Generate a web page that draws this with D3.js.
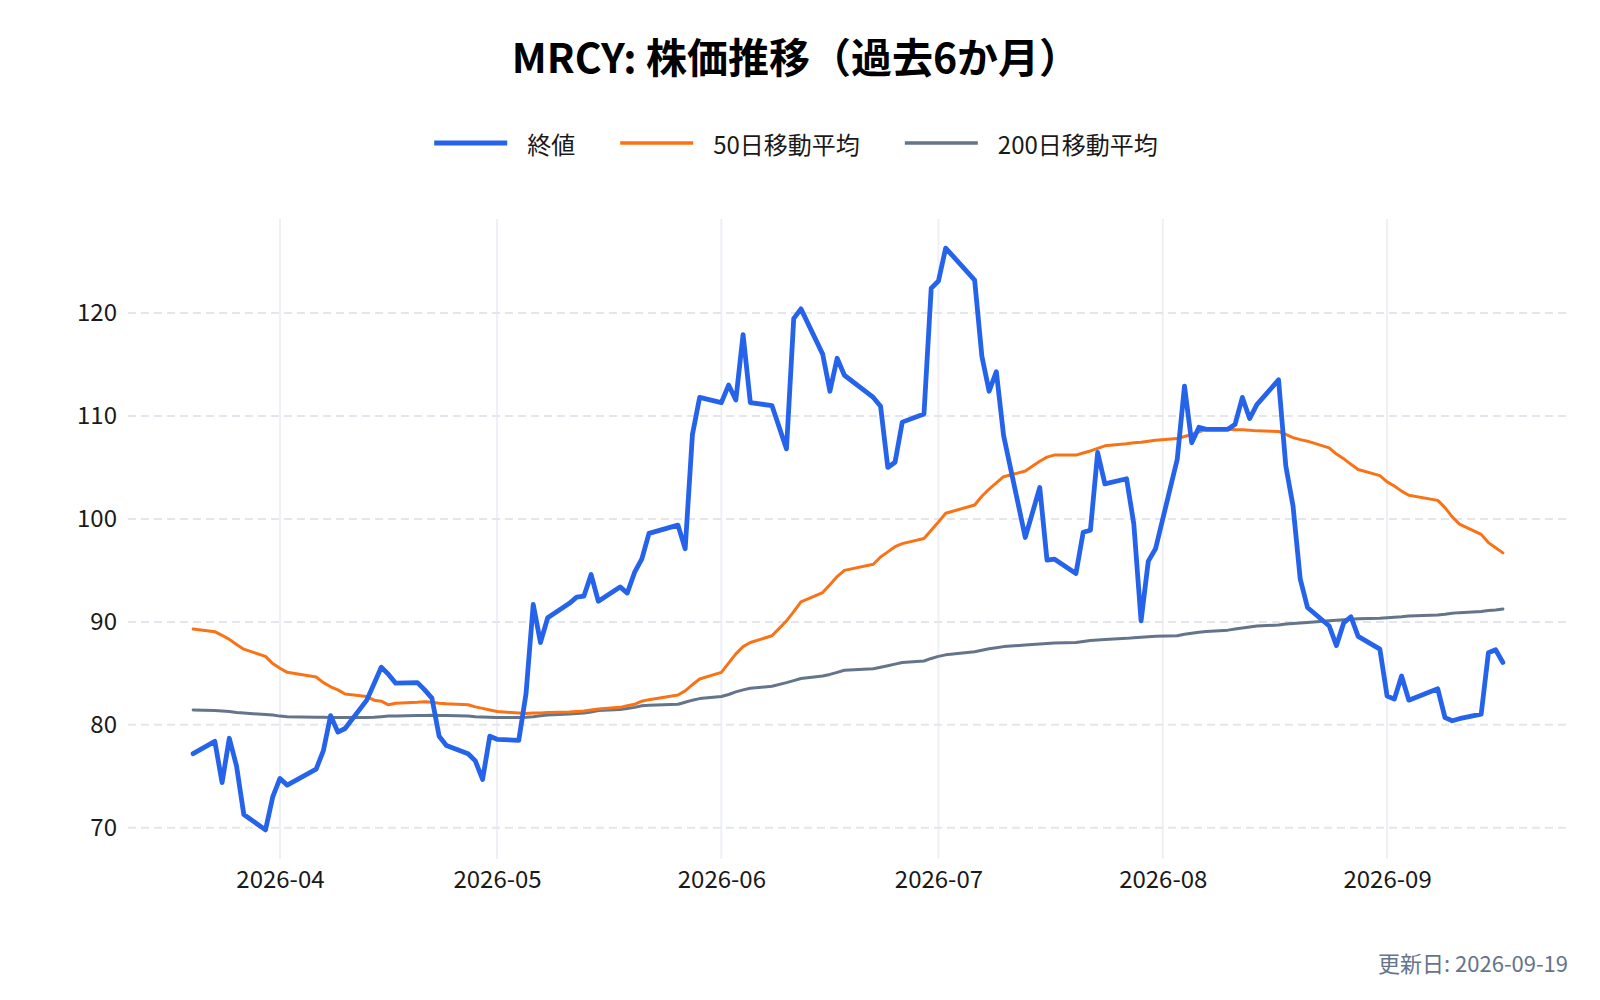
<!DOCTYPE html>
<html>

<head>
  <meta charset="utf-8">
  <title>MRCY 株価推移</title>
  <script src="https://d3js.org/d3.v7.min.js"></script>
  <style>
    body {
      margin: 0;
      background: #fff;
    }
    svg {
      display: block;
      font-family: "Noto Sans CJK JP", "Noto Sans", sans-serif;
    }
  </style>
</head>

<body>
  <script>
    // trading days shown in the chart
    const dates = [
      "2026-03-20", "2026-03-23", "2026-03-24", "2026-03-25", "2026-03-26", "2026-03-27",
      "2026-03-30", "2026-03-31", "2026-04-01", "2026-04-02", "2026-04-06", "2026-04-07",
      "2026-04-08", "2026-04-09", "2026-04-10", "2026-04-13", "2026-04-14", "2026-04-15",
      "2026-04-16", "2026-04-17", "2026-04-20", "2026-04-21", "2026-04-22", "2026-04-23",
      "2026-04-24", "2026-04-27", "2026-04-28", "2026-04-29", "2026-04-30", "2026-05-01",
      "2026-05-04", "2026-05-05", "2026-05-06", "2026-05-07", "2026-05-08", "2026-05-11",
      "2026-05-12", "2026-05-13", "2026-05-14", "2026-05-15", "2026-05-18", "2026-05-19",
      "2026-05-20", "2026-05-21", "2026-05-22", "2026-05-26", "2026-05-27", "2026-05-28",
      "2026-05-29", "2026-06-01", "2026-06-02", "2026-06-03", "2026-06-04", "2026-06-05",
      "2026-06-08", "2026-06-10", "2026-06-11", "2026-06-12", "2026-06-15", "2026-06-16",
      "2026-06-17", "2026-06-18", "2026-06-22", "2026-06-23", "2026-06-24", "2026-06-25",
      "2026-06-26", "2026-06-29", "2026-06-30", "2026-07-01", "2026-07-02", "2026-07-06",
      "2026-07-07", "2026-07-08", "2026-07-09", "2026-07-10", "2026-07-13", "2026-07-15",
      "2026-07-16", "2026-07-17", "2026-07-20", "2026-07-21", "2026-07-22", "2026-07-23",
      "2026-07-24", "2026-07-27", "2026-07-28", "2026-07-29", "2026-07-30", "2026-07-31",
      "2026-08-03", "2026-08-04", "2026-08-05", "2026-08-06", "2026-08-07", "2026-08-10",
      "2026-08-11", "2026-08-12", "2026-08-13", "2026-08-14", "2026-08-17", "2026-08-18",
      "2026-08-19", "2026-08-20", "2026-08-21", "2026-08-24", "2026-08-25", "2026-08-26",
      "2026-08-27", "2026-08-28", "2026-08-31", "2026-09-01", "2026-09-02", "2026-09-03",
      "2026-09-04", "2026-09-08", "2026-09-09", "2026-09-10", "2026-09-11", "2026-09-14",
      "2026-09-15", "2026-09-16", "2026-09-17"
    ];

    const closeValues = [
      77.2, 78.4, 74.4, 78.7, 76.0, 71.3,
      69.8, 73.0, 74.8, 74.15, 75.7, 77.5,
      80.9, 79.3, 79.65, 82.4, 84.0, 85.6,
      84.9, 84.05, 84.1, 83.4, 82.6, 78.9,
      78.0, 77.2, 76.5, 74.7, 78.9, 78.6,
      78.5, 83.0, 91.7, 88.0, 90.4, 91.8,
      92.4, 92.5, 94.6, 92.0, 93.4, 92.8,
      94.8, 96.1, 98.6, 99.4, 97.1, 108.2,
      111.8, 111.3, 113.0, 111.55, 117.9, 111.3,
      111.0, 106.8, 119.45, 120.4, 116.0, 112.4,
      115.6, 113.95, 111.8, 110.95, 105.0, 105.5,
      109.4, 110.2, 122.4, 123.1, 126.3, 123.2,
      115.8, 112.4, 114.3, 108.1, 98.2, 103.05,
      96.0, 96.1, 94.7, 98.7, 98.9, 106.45,
      103.4, 103.9, 99.5, 90.1, 95.9, 97.1,
      105.8, 112.9, 107.4, 108.9, 108.7, 108.7,
      109.2, 111.8, 109.75, 111.1, 113.5, 105.15,
      101.25, 94.15, 91.4, 89.6, 87.7, 89.9,
      90.5, 88.6, 87.35, 82.8, 82.5, 84.75,
      82.4, 83.5, 80.7, 80.4, 80.6, 81.04,
      87.0, 87.3, 86.06
    ];

    const ma50Values = [
      89.3, 89.05, 88.7, 88.3, 87.8, 87.35,
      86.65, 85.95, 85.5, 85.1, 84.65, 84.1,
      83.7, 83.4, 83.0, 82.75, 82.4, 82.3,
      81.95, 82.1, 82.2, 82.25, 82.2, 82.1,
      82.05, 81.95, 81.75, 81.6, 81.45, 81.3,
      81.15, 81.1, 81.15, 81.15, 81.2, 81.25,
      81.3, 81.35, 81.45, 81.55, 81.7, 81.85,
      82.0, 82.3, 82.45, 82.9, 83.3, 83.9,
      84.45, 85.1, 86.0, 86.9, 87.6, 88.0,
      88.65, 90.1, 91.0, 91.95, 92.85, 93.6,
      94.4, 95.0, 95.6, 96.3, 96.8, 97.3,
      97.6, 98.1, 98.9, 99.7, 100.55, 101.35,
      102.2, 102.9, 103.5, 104.1, 104.65, 105.6,
      106.0, 106.2, 106.2, 106.4, 106.6, 106.85,
      107.1, 107.3, 107.4, 107.45, 107.55, 107.65,
      107.8, 108.0, 108.2, 108.45, 108.7, 108.7,
      108.65, 108.65, 108.6, 108.55, 108.5, 108.2,
      107.9, 107.7, 107.55, 106.9, 106.3, 105.85,
      105.3, 104.8, 104.2, 103.6, 103.2, 102.7,
      102.3, 101.8, 101.1, 100.2, 99.5, 98.5,
      97.7, 97.2, 96.7
    ];

    const ma200Values = [
      81.45, 81.4, 81.35, 81.3, 81.2, 81.15,
      81.0, 80.95, 80.85, 80.8, 80.75, 80.75,
      80.72, 80.72, 80.72, 80.72, 80.75, 80.8,
      80.85, 80.87, 80.9, 80.92, 80.93, 80.92,
      80.9, 80.87, 80.8, 80.77, 80.75, 80.72,
      80.72, 80.75, 80.8, 80.88, 80.95, 81.05,
      81.1, 81.15, 81.25, 81.4, 81.5, 81.6,
      81.7, 81.85, 81.9, 82.0, 82.2, 82.4,
      82.55, 82.75, 82.95, 83.2, 83.4, 83.55,
      83.75, 84.1, 84.3, 84.5, 84.75, 84.9,
      85.1, 85.3, 85.45, 85.6, 85.75, 85.9,
      86.05, 86.2, 86.45, 86.65, 86.8, 87.1,
      87.25, 87.4, 87.5, 87.6, 87.75, 87.85,
      87.9, 87.95, 88.0, 88.1, 88.2, 88.25,
      88.3, 88.4, 88.45, 88.5, 88.55, 88.6,
      88.65, 88.8, 88.9, 89.0, 89.07, 89.2,
      89.3, 89.4, 89.5, 89.6, 89.7, 89.8,
      89.85, 89.9, 89.95, 90.1, 90.15, 90.2,
      90.25, 90.3, 90.36, 90.4, 90.45, 90.5,
      90.58, 90.68, 90.75, 90.85, 90.9, 91.0,
      91.1, 91.15, 91.25
    ];

    const seriesNames = ["終値", "50日移動平均", "200日移動平均"];
    const seriesColors = ["#2563eb", "#f97316", "#64748b"];
    const seriesWidths = [4.8, 3, 3];
    const yTickValues = [70, 80, 90, 100, 110, 120];
    const xTickLabels = ["2026-04", "2026-05", "2026-06", "2026-07", "2026-08", "2026-09"];
    const titleText = "MRCY: 株価推移（過去6か月）";
    const updatedText = "更新日: 2026-09-19";

    const width = 1600;
    const height = 1000;
    const plot = { left: 128, right: 1568, top: 219, bottom: 859 };

    const parseDay = d3.timeParse("%Y-%m-%d");
    const parseMonth = d3.timeParse("%Y-%m");
    const days = dates.map(parseDay);

    const series = [closeValues, ma50Values, ma200Values].map((values, i) => ({
      name: seriesNames[i],
      color: seriesColors[i],
      width: seriesWidths[i],
      points: values.map((v, j) => ({ date: days[j], value: v }))
    }));

    const svg = d3.select("body")
      .append("svg")
      .attr("width", width)
      .attr("height", height);

    // scales, padded a little like the original
    const xScale = d3.scaleTime()
      .domain([d3.timeDay.offset(days[0], -9), d3.timeDay.offset(days[days.length - 1], 9)])
      .range([plot.left, plot.right]);

    const allValues = closeValues.concat(ma50Values, ma200Values);
    const [yMin, yMax] = d3.extent(allValues);
    const yPad = (yMax - yMin) * 0.05;
    const yScale = d3.scaleLinear()
      .domain([yMin - yPad, yMax + yPad])
      .range([plot.bottom, plot.top]);

    const xTicks = xTickLabels.map(parseMonth);

    // vertical grid
    svg.append("g")
      .selectAll("line")
      .data(xTicks)
      .join("line")
      .attr("x1", d => xScale(d))
      .attr("x2", d => xScale(d))
      .attr("y1", plot.top)
      .attr("y2", plot.bottom)
      .attr("stroke", "#eef0f5")
      .attr("stroke-width", 2);

    // horizontal dashed grid
    svg.append("g")
      .selectAll("line")
      .data(yTickValues)
      .join("line")
      .attr("x1", plot.left)
      .attr("x2", plot.right)
      .attr("y1", d => yScale(d))
      .attr("y2", d => yScale(d))
      .attr("stroke", "#e4e6ec")
      .attr("stroke-width", 2)
      .attr("stroke-dasharray", "8,5");

    // axes
    const yAxis = svg.append("g")
      .attr("transform", `translate(${plot.left},0)`)
      .call(d3.axisLeft(yScale).tickValues(yTickValues).tickSize(0).tickPadding(11));
    yAxis.select(".domain").remove();

    const xAxis = svg.append("g")
      .attr("transform", `translate(0,${plot.bottom})`)
      .call(d3.axisBottom(xScale).tickValues(xTicks).tickFormat(d3.timeFormat("%Y-%m")).tickSize(0).tickPadding(12));
    xAxis.select(".domain").remove();

    svg.selectAll(".tick text")
      .attr("font-family", "\"Noto Sans CJK JP\", \"Noto Sans\", sans-serif")
      .attr("font-size", 24)
      .attr("fill", "#1a1a1a");

    // lines (drawn back to front)
    const line = d3.line()
      .x(d => xScale(d.date))
      .y(d => yScale(d.value));

    series.slice().reverse().forEach(s => {
      svg.append("path")
        .datum(s.points)
        .attr("fill", "none")
        .attr("stroke", s.color)
        .attr("stroke-width", s.width)
        .attr("stroke-linejoin", "round")
        .attr("stroke-linecap", "round")
        .attr("d", line);
    });

    // title
    svg.append("text")
      .attr("x", width / 2 - 4)
      .attr("y", 55)
      .attr("text-anchor", "middle")
      .attr("dominant-baseline", "central")
      .attr("font-size", 41)
      .attr("font-weight", "bold")
      .attr("fill", "#000")
      .text(titleText);

    // legend, centred
    const legend = svg.append("g");
    let cursor = 0;
    series.forEach((s, i) => {
      const item = legend.append("g").attr("transform", `translate(${cursor},0)`);
      item.append("line")
        .attr("x1", 0)
        .attr("x2", 73)
        .attr("y1", 0)
        .attr("y2", 0)
        .attr("stroke", s.color)
        .attr("stroke-width", i === 0 ? 5 : 3.5);
      const label = item.append("text")
        .attr("x", 93)
        .attr("y", 0)
        .attr("dominant-baseline", "central")
        .attr("font-size", 24)
        .attr("fill", "#1a1a1a")
        .text(s.name);
      cursor += 93 + label.node().getComputedTextLength() + 45;
    });
    const legendWidth = cursor - 45;
    legend.attr("transform", `translate(${(width - legendWidth) / 2 - 4},143)`);

    // footer
    svg.append("text")
      .attr("x", plot.right)
      .attr("y", 962)
      .attr("text-anchor", "end")
      .attr("dominant-baseline", "central")
      .attr("font-size", 22)
      .attr("fill", "#64748b")
      .text(updatedText);
  </script>
</body>

</html>
